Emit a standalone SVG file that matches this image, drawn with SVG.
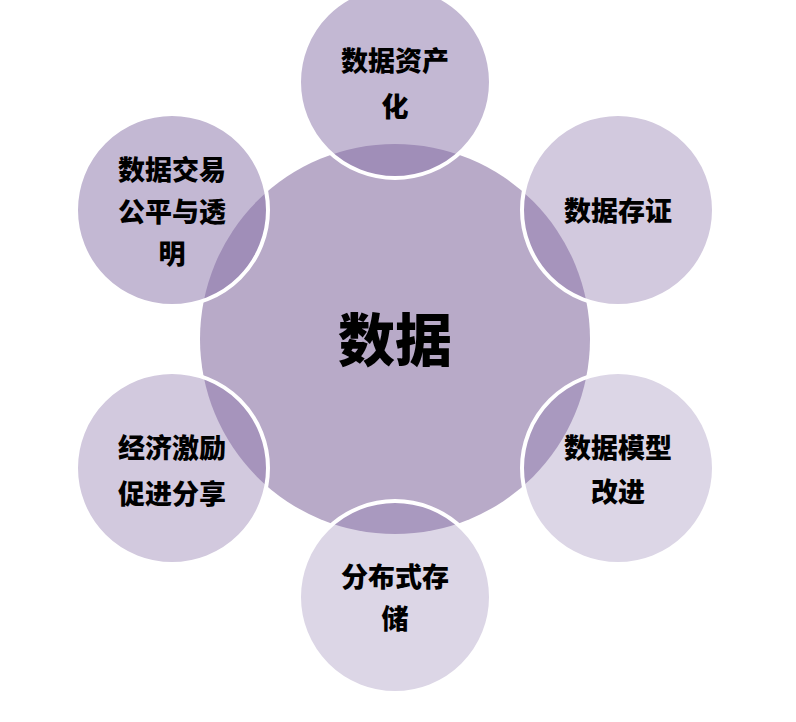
<svg xmlns="http://www.w3.org/2000/svg" width="796" height="722" viewBox="0 0 796 722">
<style>
.bg{fill:#ffffff}
.core{fill:#b8aac8}
.sat{fill:#8872a8;stroke:#ffffff;stroke-width:4}
.o1{fill-opacity:0.5}
.o2{fill-opacity:0.38}
.o3{fill-opacity:0.29}
text{font-family:"Noto Sans CJK SC","Noto Sans",sans-serif;font-weight:900;fill:#000000;text-anchor:middle;dominant-baseline:central}
.s{font-size:27px}
.c{font-size:57px}
</style>
<rect class="bg" x="0" y="0" width="796" height="722"/>
<g id="connectors"/>
<g id="core">
<circle class="core" cx="395" cy="339" r="195"/>
<text class="c" x="395" y="336">数据</text>
</g>
<g id="n-top">
<circle class="sat o1" cx="395" cy="82" r="96"/>
<text class="s" x="395" y="59">数据资产</text>
<text class="s" x="395" y="105">化</text>
</g>
<g id="n-topright">
<circle class="sat o2" cx="618" cy="210" r="96"/>
<text class="s" x="618" y="209">数据存证</text>
</g>
<g id="n-bottomright">
<circle class="sat o3" cx="618" cy="468" r="96"/>
<text class="s" x="618" y="446">数据模型</text>
<text class="s" x="618" y="490">改进</text>
</g>
<g id="n-bottom">
<circle class="sat o3" cx="395" cy="597" r="96"/>
<text class="s" x="395" y="575">分布式存</text>
<text class="s" x="395" y="617">储</text>
</g>
<g id="n-bottomleft">
<circle class="sat o2" cx="172" cy="468" r="96"/>
<text class="s" x="172" y="446">经济激励</text>
<text class="s" x="172" y="492">促进分享</text>
</g>
<g id="n-topleft">
<circle class="sat o1" cx="172" cy="210" r="96"/>
<text class="s" x="172" y="168">数据交易</text>
<text class="s" x="172" y="210">公平与透</text>
<text class="s" x="172" y="252">明</text>
</g>
</svg>
